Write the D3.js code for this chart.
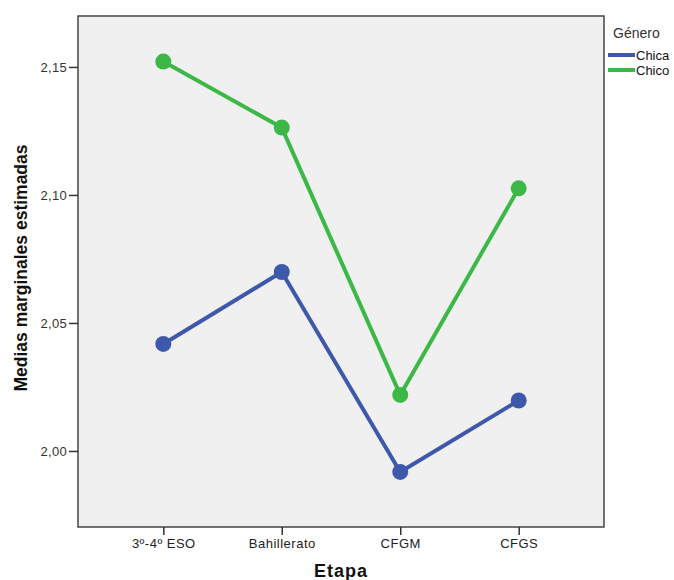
<!DOCTYPE html>
<html>
<head>
<meta charset="utf-8">
<script src="https://cdn.jsdelivr.net/npm/d3@7"></script>
<style>
  html, body { margin: 0; padding: 0; background: #ffffff; }
  svg { display: block; font-family: "Liberation Sans", Arial, sans-serif; }
</style>
</head>
<body>
<svg id="chart" width="674" height="580"></svg>
<script>
const categories = ["3º-4º ESO", "Bahillerato", "CFGM", "CFGS"];
const seriesNames = ["Chica", "Chico"];
const chicaValues = [2.0418, 2.0699, 1.9918, 2.0197];
const chicoValues = [2.1521, 2.1263, 2.0219, 2.1026];
const yTicks = [2.00, 2.05, 2.10, 2.15];
const seriesColors = ["#3e58ac", "#3cb846"];

const series = [
  { name: seriesNames[0], values: chicaValues, color: seriesColors[0] },
  { name: seriesNames[1], values: chicoValues, color: seriesColors[1] }
];

const svg = d3.select("#chart");
const plot = { left: 78, top: 16, right: 604, bottom: 527 };

const x = d3.scalePoint().domain(categories).range([plot.left, plot.right]).padding(0.72);
const y = d3.scaleLinear().domain([1.9703, 2.1699]).range([plot.bottom, plot.top]);

svg.append("rect")
  .attr("x", plot.left).attr("y", plot.top)
  .attr("width", plot.right - plot.left).attr("height", plot.bottom - plot.top)
  .attr("fill", "#f0f0f0").attr("stroke", "#444").attr("stroke-width", 1.5);

const fmt = d => d3.format(".2f")(d).replace(".", ",");

const yAxis = svg.append("g")
  .attr("transform", `translate(${plot.left},0)`)
  .call(d3.axisLeft(y).tickValues(yTicks).tickFormat(fmt).tickSize(9).tickPadding(2));
yAxis.select(".domain").remove();
yAxis.selectAll("line").attr("stroke", "#333").attr("stroke-width", 1.5);
yAxis.selectAll("text").attr("fill", "#333").style("font-size", "13px")
  .style("letter-spacing", "0.3px")
  .style("font-family", "'Liberation Sans', Arial, sans-serif");

const xAxis = svg.append("g")
  .attr("transform", `translate(0,${plot.bottom})`)
  .call(d3.axisBottom(x).tickSize(8).tickPadding(4));
xAxis.select(".domain").remove();
xAxis.selectAll("line").attr("stroke", "#333").attr("stroke-width", 1.5);
xAxis.selectAll("text").attr("fill", "#222").style("font-size", "13px")
  .style("letter-spacing", "0.5px")
  .style("font-family", "'Liberation Sans', Arial, sans-serif");

const line = d3.line().x((d, i) => x(categories[i])).y(d => y(d));

series.forEach(s => {
  svg.append("path").datum(s.values)
    .attr("d", line).attr("fill", "none")
    .attr("stroke", s.color).attr("stroke-width", 4)
    .attr("stroke-linejoin", "round");
  svg.selectAll(null).data(s.values).enter().append("circle")
    .attr("cx", (d, i) => x(categories[i])).attr("cy", d => y(d))
    .attr("r", 8).attr("fill", s.color);
});

svg.append("text")
  .attr("transform", `translate(27,268) rotate(-90)`)
  .attr("text-anchor", "middle")
  .style("font-size", "17.5px").style("font-weight", "bold").attr("fill", "#111")
  .text("Medias marginales estimadas");

svg.append("text")
  .attr("x", (plot.left + plot.right) / 2).attr("y", 577)
  .attr("text-anchor", "middle")
  .style("font-size", "18px").style("font-weight", "bold")
  .style("letter-spacing", "1px").attr("fill", "#111")
  .text("Etapa");

const legend = svg.append("g");
legend.append("text").attr("x", 613).attr("y", 38)
  .style("font-size", "14px").attr("fill", "#333").text("Género");
series.forEach((s, i) => {
  const ly = 55 + i * 15;
  legend.append("line").attr("x1", 608).attr("x2", 635).attr("y1", ly).attr("y2", ly)
    .attr("stroke", s.color).attr("stroke-width", 4);
  legend.append("text").attr("x", 636).attr("y", ly + 4.5)
    .style("font-size", "13px").attr("fill", "#111").text(s.name);
});
</script>
</body>
</html>
